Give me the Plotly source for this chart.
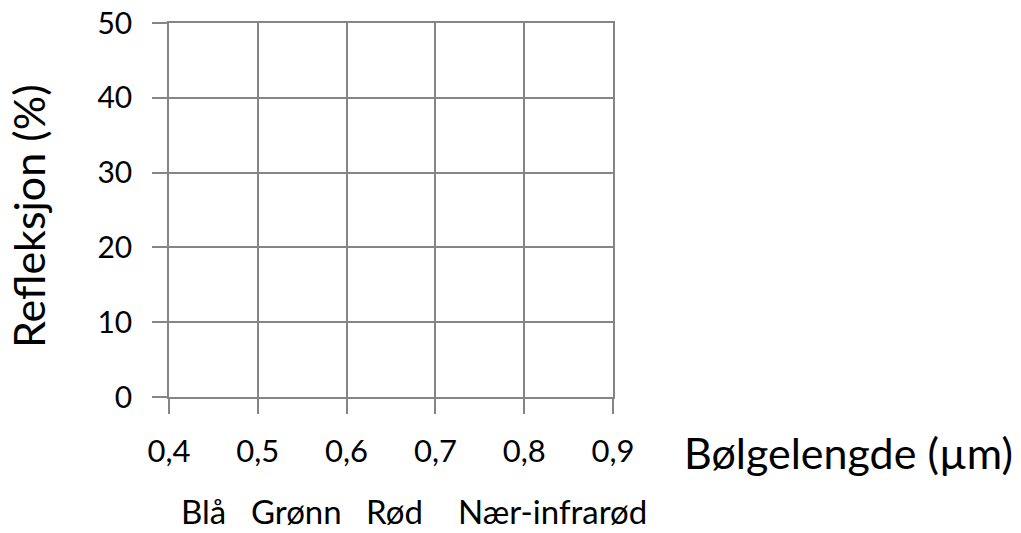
import plotly.graph_objects as go

# Data / labels
x_tickvals = [0.4, 0.5, 0.6, 0.7, 0.8, 0.9]
x_ticktext = ["0,4", "0,5", "0,6", "0,7", "0,8", "0,9"]
y_tickvals = [0, 10, 20, 30, 40, 50]
y_ticktext = ["0", "10", "20", "30", "40", "50"]
x_range = [0.4, 0.9]
y_range = [0, 50]
x_title = "Bølgelengde (µm)"
y_title = "Refleksjon (%)"
band_labels = ["Blå", "Grønn", "Rød", "Nær-infrarød"]
band_left_px = [180, 250, 365, 457]   # left pixel positions of the band words

FONT = "Lato"
GRID = "#858585"
TXT = "#000000"

L, T, R, B = 169, 23, 613, 397
W, H = 1021, 533

fig = go.Figure()
# invisible trace to anchor the axes
fig.add_trace(go.Scatter(x=x_range, y=y_range, mode="markers",
                         marker=dict(opacity=0), hoverinfo="skip", showlegend=False))

axis_common = dict(showgrid=True, gridcolor=GRID, gridwidth=1.5,
                   showline=True, linecolor=GRID, linewidth=1.5, mirror=True,
                   ticks="outside", ticklen=15, tickcolor=GRID, tickwidth=1.5,
                   zeroline=False, automargin=False)

fig.update_xaxes(range=x_range, tickvals=x_tickvals, ticktext=x_ticktext,
                 ticklabelstandoff=11, tickfont=dict(family=FONT, size=31, color=TXT),
                 **axis_common)
fig.update_yaxes(range=y_range, tickvals=y_tickvals, ticktext=y_ticktext,
                 ticklabelstandoff=14, tickfont=dict(family=FONT, size=30, color=TXT),
                 **axis_common)

fig.add_annotation(text=x_title, xref="paper", yref="paper", x=1.0, y=0,
                   xshift=682 - R, yshift=B - 452, xanchor="left", yanchor="middle",
                   showarrow=False, font=dict(family=FONT, size=43, color=TXT))
fig.add_annotation(text=y_title, xref="paper", yref="paper", x=0, y=0.5,
                   xshift=28 - L, yshift=(T + B) / 2 - 216, textangle=-90,
                   xanchor="center", yanchor="middle",
                   showarrow=False, font=dict(family=FONT, size=43, color=TXT))
for word, px in zip(band_labels, band_left_px):
    fig.add_annotation(text=word, xref="paper", yref="paper", x=0, y=0,
                       xshift=px - L, yshift=B - 511, xanchor="left", yanchor="middle",
                       borderpad=0,
                       showarrow=False, font=dict(family=FONT, size=33, color=TXT))

fig.update_layout(width=W, height=H, plot_bgcolor="white", paper_bgcolor="white",
                  margin=dict(l=L, r=W - R, t=T, b=H - B), showlegend=False)

fig.write_html("out.html", config={"displayModeBar": False},
               post_script="document.body.style.margin='0';")
